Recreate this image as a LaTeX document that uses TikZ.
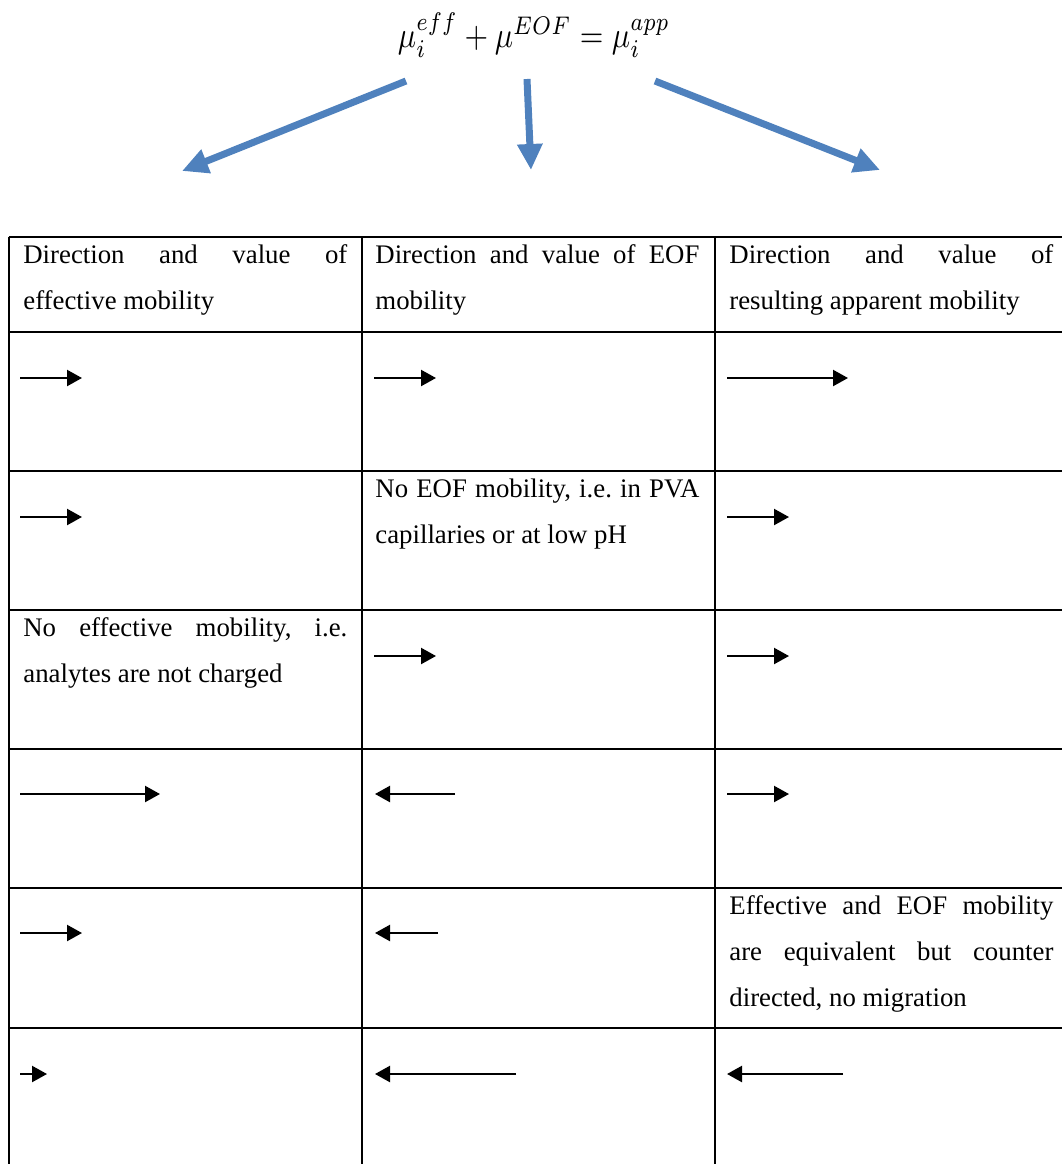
\documentclass[tikz,border=0pt]{standalone}
\usepackage{fontspec}
\setmainfont{Liberation Serif}
\usepackage{amsmath}
\usetikzlibrary{arrows.meta}
\definecolor{officeblue}{HTML}{4F81BD}
\newcommand{\jline}[1]{\makebox[162pt][s]{#1}}
\begin{document}
\begin{tikzpicture}[x=0.5pt,y=-0.5pt,
  grid/.style={line width=1pt,black},
  txt/.style={anchor=base west,inner sep=0pt,font=\fontsize{13.4pt}{23pt}\selectfont},
  barrow/.style={line width=1.1pt,-{Triangle[length=7.5pt,width=8pt]}},
  bluearrow/.style={line width=3.5pt,officeblue,-{Triangle[length=13pt,width=12pt]}}]
\path[use as bounding box] (0,0) rectangle (1062,1164);

% formula
\node[inner sep=0pt] (eq) at (534,35) {\scalebox{1}[1.2]{\resizebox{136pt}{!}{$\mu_i^{\scriptstyle eff}+\mu^{\scriptstyle EOF}=\mu_i^{\scriptstyle app}$}}};

% blue arrows
\coordinate (l0) at (406,81); \coordinate (l1) at (182,171);
\coordinate (m0) at (527,79); \coordinate (m1) at (531,170);
\coordinate (r0) at (655,81); \coordinate (r1) at (880,170);
\draw[bluearrow] (l0) -- (l1);
\draw[bluearrow] (m0) -- (m1);
\draw[bluearrow] (r0) -- (r1);

% table grid
\foreach \y/\n in {237/h0,332/h1,471/h2,610/h3,749/h4,888/h5,1028/h6}{
  \coordinate (\n a) at (8.5,\y); \coordinate (\n b) at (1070,\y);
  \draw[grid] (\n a) -- (\n b);
}
\foreach \x/\n in {8.5/v0,362/v1,715/v2}{
  \coordinate (\n a) at (\x,237); \coordinate (\n b) at (\x,1170);
  \draw[grid] (\n a) -- (\n b);
}

% header
\node[txt] (t11) at (23,263) {\jline{Direction\hfill and\hfill value\hfill of}};
\node[txt] (t12) at (23,309) {effective mobility};
\node[txt] (t21) at (375,263) {\jline{Direction\hfill and\hfill value\hfill of\hfill EOF}};
\node[txt] (t22) at (375,309) {mobility};
\node[txt] (t31) at (729,263) {\jline{Direction\hfill and\hfill value\hfill of}};
\node[txt] (t32) at (729,309) {resulting apparent mobility};

% row 2 col 2
\node[txt] (r2a) at (375,497) {\jline{No\hfill EOF\hfill mobility,\hfill i.e.\hfill in\hfill PVA}};
\node[txt] (r2b) at (375,543) {capillaries or at low pH};

% row 3 col 1
\node[txt] (r3a) at (23,636) {\jline{No\hfill effective\hfill mobility,\hfill i.e.}};
\node[txt] (r3b) at (23,682) {analytes are not charged};

% row 5 col 3
\node[txt] (r5a) at (729,914) {\jline{Effective\hfill and\hfill EOF\hfill mobility}};
\node[txt] (r5b) at (729,960) {\jline{are\hfill equivalent\hfill but\hfill counter}};
\node[txt] (r5c) at (729,1006) {directed, no migration};

% black arrows
\foreach \n/\xa/\xb/\y in {
  a11/20/82/378, a12/374/436/378, a13/727/848/378,
  a21/20/82/517, a23/727/789/517,
  a32/374/436/656, a33/727/789/656,
  a41/20/160/794, a42/455/375/794, a43/727/789/794,
  a51/20/82/933, a52/438/375/933,
  a61/20/47/1074, a62/516/375/1074, a63/843/727/1074}{
  \coordinate (\n s) at (\xa,\y); \coordinate (\n e) at (\xb,\y);
  \draw[barrow] (\n s) -- (\n e);
}
\end{tikzpicture}
\end{document}
